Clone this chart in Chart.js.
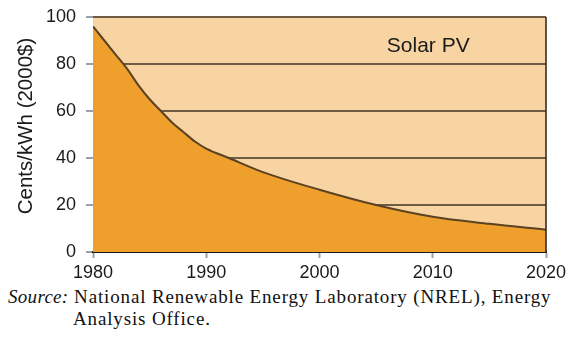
<!DOCTYPE html>
<html>
<head>
<meta charset="utf-8">
<script src="https://cdn.jsdelivr.net/npm/chart.js@4/dist/chart.umd.min.js"></script>
<style>
  html, body { margin: 0; padding: 0; background: #fff; }
  #wrap { position: relative; width: 579px; height: 342px; }
  #box { position: absolute; left: 0; top: 0; width: 579px; height: 284px; }
  #source {
    position: absolute; left: 8px; top: 286px; width: 571px;
    font-family: "Liberation Serif", "Times New Roman", serif;
    font-size: 19px; line-height: 22px; color: #111;
    letter-spacing: 0.85px; white-space: nowrap;
  }
  #source .lead { font-style: italic; letter-spacing: 0.3px; }
  #source .indent { padding-left: 65px; }
</style>
</head>
<body>
<div id="wrap">
  <div id="box"><canvas id="c"></canvas></div>
  <div id="source"><span class="lead">Source:</span> National Renewable Energy Laboratory (NREL), Energy<br><span class="indent">Analysis Office.</span></div>
</div>
<script>
// Levelized cost of solar PV electricity, cents/kWh in 2000 dollars
const years = [1980, 1981, 1982, 1983, 1984, 1985, 1986, 1987, 1988, 1989, 1990, 1992, 1995, 2000, 2005, 2010, 2015, 2020];
const cents = [96, 90, 84, 78, 71, 65, 60, 55, 51, 47, 44, 40, 34, 26.5, 20, 15, 12, 9.5];
const xTicks = [1980, 1990, 2000, 2010, 2020];
const yTicks = [0, 20, 40, 60, 80, 100];
const seriesLabel = 'Solar PV';
const yTitle = 'Cents/kWh (2000$)';

const points = years.map((y, i) => ({ x: y, y: cents[i] }));
const SANS = '"Liberation Sans", Arial, sans-serif';

const panel = {
  id: 'panel',
  beforeDraw(chart) {
    const { ctx, chartArea: a } = chart;
    ctx.save();
    ctx.fillStyle = '#F8D4A2';
    ctx.fillRect(a.left, a.top, a.right - a.left, a.bottom - a.top);
    ctx.restore();
  },
  afterDraw(chart) {
    const { ctx, chartArea: a, scales } = chart;
    ctx.save();
    // frame on the right side of the plot
    ctx.strokeStyle = '#2a2218';
    ctx.lineWidth = 1.5;
    ctx.beginPath();
    ctx.moveTo(a.right, a.top);
    ctx.lineTo(a.right, a.bottom);
    ctx.stroke();
    // series name inside the plot
    ctx.fillStyle = '#1a1a1a';
    ctx.font = '21px ' + SANS;
    ctx.textAlign = 'center';
    ctx.textBaseline = 'middle';
    ctx.fillText(seriesLabel, scales.x.getPixelForValue(2009.6), scales.y.getPixelForValue(87.5));
    // vertical axis title
    ctx.translate(26, 126);
    ctx.rotate(-Math.PI / 2);
    ctx.font = '20.5px ' + SANS;
    ctx.fillText(yTitle, 0, 0);
    ctx.restore();
  }
};

new Chart(document.getElementById('c'), {
  type: 'line',
  data: {
    datasets: [{
      label: seriesLabel,
      data: points,
      borderColor: '#5b4222',
      borderWidth: 2,
      backgroundColor: '#EFA02C',
      fill: 'origin',
      pointRadius: 0,
      cubicInterpolationMode: 'monotone'
    }]
  },
  options: {
    responsive: true,
    maintainAspectRatio: false,
    animation: false,
    layout: { padding: { left: 0, right: 33, top: 17, bottom: 0 } },
    plugins: { legend: { display: false }, tooltip: { enabled: false } },
    scales: {
      x: {
        type: 'linear',
        min: 1980, max: 2020,
        afterBuildTicks(s) { s.ticks = xTicks.map(v => ({ value: v })); },
        afterFit(s) { s.height = 32; s.paddingLeft = 0; s.paddingRight = 0; },
        ticks: {
          color: '#1a1a1a',
          padding: 4,
          maxRotation: 0,
          font: { family: SANS, size: 18 },
          callback: v => String(v)
        },
        grid: { drawOnChartArea: false, drawTicks: true, tickLength: 6, tickColor: '#9aa0aa', tickWidth: 2 },
        border: { display: true, color: '#1e1a14', width: 2 }
      },
      y: {
        min: 0, max: 100,
        afterBuildTicks(s) { s.ticks = yTicks.map(v => ({ value: v })); },
        afterFit(s) { s.width = 93; s.paddingTop = 0; s.paddingBottom = 0; },
        ticks: {
          color: '#1a1a1a',
          padding: 10,
          font: { family: SANS, size: 18 }
        },
        grid: { color: '#6e5c44', lineWidth: 2, drawTicks: true, tickLength: 7, tickColor: '#9aa0aa', tickWidth: 2 },
        border: { display: false }
      }
    }
  },
  plugins: [panel]
});
</script>
</body>
</html>
